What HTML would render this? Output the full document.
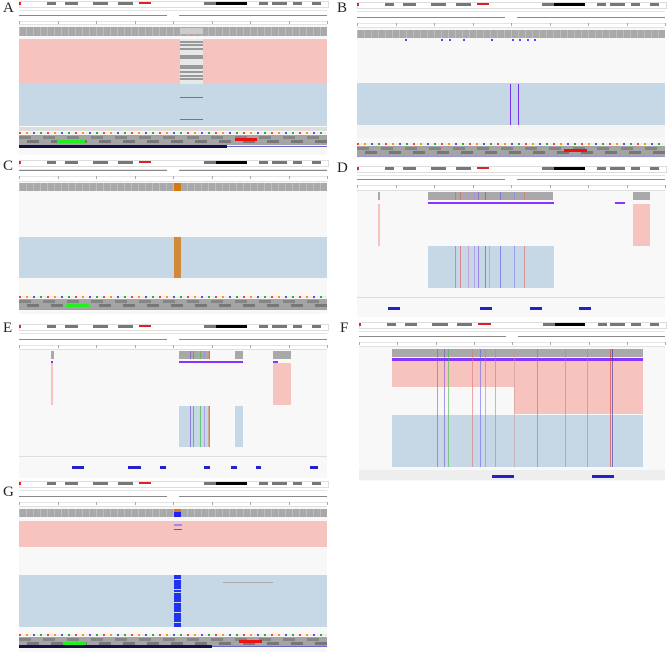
<!DOCTYPE html>
<html><head><meta charset="utf-8">
<style>
html,body{margin:0;padding:0;background:#fff;}
#root{position:relative;width:669px;height:653px;overflow:hidden;font-family:"Liberation Sans",sans-serif;}
.a{position:absolute;}
.lbl{position:absolute;font-family:"Liberation Serif",serif;font-size:15px;color:#222;}
</style></head>
<body>
<div id="root"></div>
<script>
const panelLetters=["A","B","C","D","E","F","G"];
const panelX=[19,357,19,357,19,359,19];
const panelY=[0,0,160,160,320,315,480];
const root=document.getElementById('root');
function box(p,x,y,w,h,c,name,op){
  const d=document.createElement('div');d.className='a';
  d.style.left=x+'px';d.style.top=y+'px';d.style.width=w+'px';d.style.height=h+'px';d.style.background=c;
  if(op)d.style.opacity=op;
  
  
  p.appendChild(d);return d;
}
function label(t,x,y){const d=document.createElement('div');d.className='lbl';d.textContent=t;d.style.left=x+'px';d.style.top=y+'px';


root.appendChild(d);}
function ideogram(x,y,w){
  box(root,x,y,w,5,'#fff','ideogram').style.border='1px solid #ddd';
  const set=[[.09,.03],[.15,.04],[.24,.05],[.32,.05],[.6,.04],[.64,.1],[.78,.03],[.82,.05],[.89,.03],[.95,.03]];
  set.forEach((b,i)=>box(root,x+b[0]*w,y+1,b[1]*w,3,i==5?'#000':'#777','ideogram-band'));
  box(root,x+.39*w,y+1,.04*w,2,'#d22','centromere');
  box(root,x,y+1,2,3,'#e22','ideogram-marker');
  box(root,x,y+9,w,1,'#e4e4e4','divider');
}
function ruler(x,y,w){
  box(root,x,y,w,1,'#888','ruler-line');
  box(root,x,y+6,w,1,'#e4e4e4','ruler-axis');
  for(let i=0;i<=8;i++) box(root,x+i*w/8,y+6,1,3,'#aaa','ruler-tick');
  box(root,x+w/2-6,y-2,12,3,'#fff','span-label');
}
function frame(x,y,w,h){const d=box(root,x,y,w,h,'#f8f8f8','track-panel');d.style.borderTop='1px solid #e0e0e0';return d;}
function coverage(x,y,w,h){box(root,x,y,w,h,'#a9a9a9','coverage-track');for(let i=0;i<w;i+=7)box(root,x+i,y,1,h,'#bdbdbd','coverage-seg');}
function seqTrack(x,y,w,green,red){
  box(root,x,y,w,2,'#eee','sequence-row');
  const cols=['#e44','#f90','#55c','#3a3'];
  for(let i=0;i<w;i+=7)box(root,x+i,y,2,2,cols[(i*7)%4],'base');
  box(root,x,y+3,w,10,'#a4a4a4','translation-track');
  for(let i=0;i<w;i+=24){box(root,x+i,y+4,12,3,'#858585','codon');box(root,x+i+8,y+8,12,3,'#777','codon');}
  if(green)box(root,x+green[0],y+8,green[1],3,'#2e2','start-codons');
  if(red)box(root,x+red[0],y+6,red[1],3,'#e11','stop-codons');
}
// A
label('A',3,0);ideogram(19,1,308);ruler(19,15,308);
frame(19,24,308,130);coverage(19,27,308,9);box(root,180,28,23,6,'#ccc','coverage-dip');
box(root,19,39,308,45,'#f7c3bf','sample-1-reads');box(root,19,84,308,42,'#c6d7e6','sample-2-reads');
box(root,180,39,23,45,'#e8e8e8','gap-region');box(root,180,84,23,42,'#c6d7e6','gap-region-2');
[41,44,48,55,57,65,67,71,75,78].forEach(v=>box(root,180,v,23,2,'#999','read'));
[97,119].forEach(v=>box(root,180,v,23,1,'#777','read'));
box(root,19,127,308,4,'#ddd','spacer');seqTrack(19,132,308,[38,28],[216,22]);
box(root,19,145,208,3,'#114','gene-exons');box(root,227,146,100,1,'#66c','gene-line');
// B
label('B',337,0);ideogram(357,2,308);ruler(357,17,308);
frame(357,27,308,130);coverage(357,30,308,8);
box(root,357,39,308,44,'#f8f8f8','sample-1-reads');box(root,357,83,308,42,'#c6d7e6','sample-2-reads');
[52,91,99,114,144,167,175,183,191].forEach(v=>box(root,357+v*308/332,39,2,2,'#73f','snv'));
[510,518].forEach(v=>box(root,v,84,1,41,'#73e','variant-line'));
box(root,357,125,308,13,'#f4f4f4','spacer');seqTrack(357,143,308,null,[207,23]);box(root,357,156,308,1,'#99c','gene-line');
// C
label('C',3,158);ideogram(19,160,308);ruler(19,170,308);
frame(19,181,308,132);coverage(19,183,308,8);box(root,174,183,7,8,'#d47a10','variant-coverage');
box(root,19,237,308,41,'#c6d7e6','sample-2-reads');box(root,174,237,7,41,'#d08a3a','variant-column');
seqTrack(19,296,308,[47,23],null);box(root,19,309,308,1,'#99c','gene-line');
// D
label('D',337,160);ideogram(357,166,308);ruler(357,179,308);
frame(357,190,308,126);
[[378,2],[428,125],[633,17]].forEach(s=>box(root,s[0],192,s[1],8,'#a9a9a9','coverage-block'));
box(root,428,202,126,2,'#83f','snv-dense');box(root,615,202,10,2,'#83f','snv');
box(root,378,204,2,42,'#f7c3bf','sample-1-reads');box(root,633,204,17,42,'#f7c3bf','sample-1-reads');
box(root,428,246,126,42,'#c6d7e6','sample-2-reads');
[[455,'#4b4'],[460,'#d66'],[468,'#c8c'],[474,'#a8e'],[478,'#86d'],[485,'#75c'],[489,'#d96'],[500,'#66e'],[514,'#88e'],[524,'#d77']].forEach(v=>{box(root,v[0],192,1,8,v[1],'cov-variant',0.7);box(root,v[0],246,1,42,v[1],'variant-line',0.7);});
box(root,357,297,308,1,'#ddd','divider');
[388,480,530,579].forEach(g=>box(root,g,307,12,3,'#22c','gene'));
// E
label('E',3,320);ideogram(19,324,308);ruler(19,339,308);
frame(19,349,308,128);
[[51,3],[179,31],[235,8],[273,18]].forEach(s=>box(root,s[0],351,s[1],8,'#a9a9a9','coverage-block'));
box(root,179,361,64,2,'#83f','snv-dense');box(root,273,361,5,2,'#83f','snv');box(root,51,361,2,2,'#83f','snv');
box(root,51,363,2,42,'#f7c3bf','sample-1-reads');box(root,273,363,18,42,'#f7c3bf','sample-1-reads');
box(root,179,406,31,41,'#c6d7e6','sample-2-reads');box(root,235,406,8,41,'#c6d7e6','sample-2-reads');
[[190,'#75c'],[193,'#86d'],[200,'#4b4'],[204,'#a8e'],[208,'#d96'],[209,'#86d']].forEach(v=>{box(root,v[0],351,1,8,v[1],'cov-variant',0.7);box(root,v[0],406,1,41,v[1],'variant-line',0.7);});
box(root,19,456,308,1,'#ddd','divider');
[[72,12],[128,13],[160,6],[204,6],[231,6],[256,5],[310,8]].forEach(g=>box(root,g[0],466,g[1],3,'#22c','gene'));
// F
label('F',340,320);ideogram(359,322,306);ruler(359,336,306);
frame(359,346,306,134);
box(root,392,349,251,8,'#a9a9a9','coverage-track');box(root,392,358,251,3,'#83f','snv-dense');
box(root,392,361,251,26,'#f7c3bf','sample-1-reads');box(root,514,387,129,27,'#f7c3bf','sample-1-reads-b');
box(root,392,415,251,52,'#c6d7e6','sample-2-reads');
[[437,'#66e'],[444,'#75c'],[448,'#4b4'],[472,'#d77'],[480,'#66e'],[485,'#d77'],[495,'#88e'],[514,'#c99'],[537,'#77e'],[565,'#88e'],[587,'#d77'],[610,'#d33'],[612,'#33a']].forEach(v=>{box(root,v[0],349,1,118,v[1],'variant-line',0.6);});
box(root,359,470,306,10,'#eee','gene-track');
box(root,492,475,22,3,'#22c','gene');box(root,592,475,22,3,'#22c','gene');
// G
label('G',3,484);ideogram(19,481,308);ruler(19,496,308);
frame(19,506,308,145);coverage(19,509,308,8);box(root,174,509,7,3,'#d47a10','cov-top');box(root,174,512,7,5,'#22e','cov-alt');
box(root,19,521,308,26,'#f7c3bf','sample-1-reads');box(root,19,575,308,52,'#c6d7e6','sample-2-reads');
box(root,174,524,8,2,'#98f','read');box(root,174,529,8,1,'#55e','read');
box(root,174,575,7,52,'#2233ee','variant-column');
[579,589,592,602,612,622].forEach(v=>box(root,174,v,7,1,'#c6d7e6','read-gap'));
box(root,223,582,50,1,'#aaa','read');
seqTrack(19,634,308,[44,23],[220,23]);box(root,19,645,193,3,'#114','gene-exons');box(root,212,646,115,1,'#66c','gene-line');
</script>
</body></html>
